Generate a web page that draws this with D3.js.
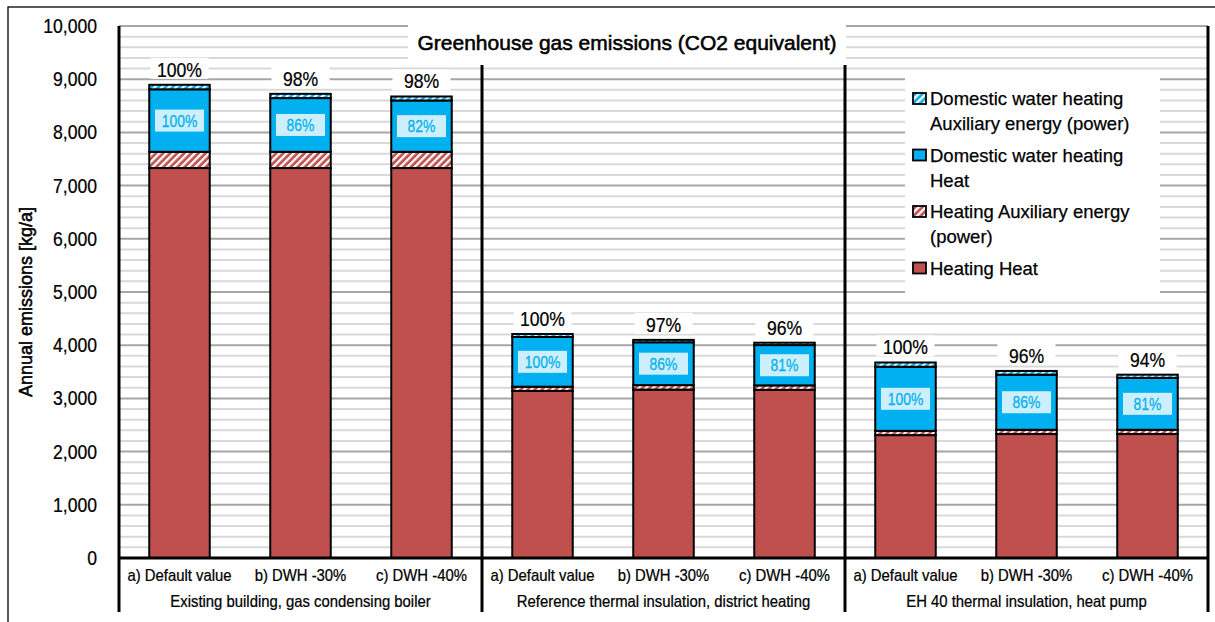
<!DOCTYPE html>
<html>
<head>
<meta charset="utf-8">
<script src="https://cdn.jsdelivr.net/npm/d3@7"></script>
<style>
  html, body { margin: 0; padding: 0; background: #fff; }
  svg { display: block; font-family: "Liberation Sans", Arial, sans-serif; }
  svg text { stroke: currentColor; stroke-width: 0.25px; }
  svg text.heavy { stroke-width: 0.55px; }
</style>
</head>
<body>
<svg id="chart" width="1215" height="622"></svg>
<script>
// ---- data (annual emissions, kg CO2-eq per year) ----
const groups = [
  "Existing building, gas condensing boiler",
  "Reference thermal insulation, district heating",
  "EH 40 thermal insulation, heat pump"
];
const variants = ["a) Default value", "b) DWH -30%", "c) DWH -40%"];

const heatingHeat = [7330, 7330, 7330, 3140, 3165, 3160, 2310, 2330, 2330];
const heatingAux  = [305, 305, 305, 80, 85, 85, 80, 80, 80];
const dwhHeat     = [1175, 1010, 965, 935, 805, 757, 1205, 1036, 976];
const dwhAux      = [85, 80, 75, 55, 45, 45, 80, 70, 60];

const yTicks = d3.range(0, 10001, 1000);
const seriesKeys = ["hh", "ha", "dh", "da"];
const legendItems = [
  { key: "da", lines: ["Domestic water heating", "Auxiliary energy (power)"] },
  { key: "dh", lines: ["Domestic water heating", "Heat"] },
  { key: "ha", lines: ["Heating Auxiliary energy", "(power)"] },
  { key: "hh", lines: ["Heating Heat"] }
];

// ---- layout ----
const plot = { left: 119, right: 1208, top: 26, bottom: 558 };
const RED = "#c0504d", BLUE = "#00b0f0";

const svg = d3.select("#chart");
const defs = svg.append("defs");

function stripes(id, color) {
  const p = defs.append("pattern")
    .attr("id", id)
    .attr("patternUnits", "userSpaceOnUse")
    .attr("width", 5).attr("height", 5)
    .attr("patternTransform", "rotate(45)");
  p.append("rect").attr("width", 5).attr("height", 5).attr("fill", color);
  p.append("rect").attr("width", 2.3).attr("height", 5).attr("fill", "#fff");
}
stripes("hatchRed", RED);
stripes("hatchBlue", BLUE);

const fills = { hh: RED, ha: "url(#hatchRed)", dh: BLUE, da: "url(#hatchBlue)" };

// text with a slight horizontal squeeze
function txt(parent, x, y, s, size, sx, anchor, fill) {
  return parent.append("text")
    .attr("transform", `translate(${x},${y}) scale(${sx},1)`)
    .attr("text-anchor", anchor || "middle")
    .attr("font-size", size)
    .attr("fill", fill || "#000")
    .style("color", fill || "#000")
    .text(s);
}

// outer frame
svg.append("rect").attr("x", 8).attr("y", 7).attr("width", 1300).attr("height", 700)
  .attr("fill", "#fff").attr("stroke", "#000").attr("stroke-width", 1.3);

// ---- scales ----
const rows = heatingHeat.map((_, i) => ({
  key: `${Math.floor(i / 3)}|${i % 3}`,
  group: Math.floor(i / 3),
  variant: i % 3,
  hh: heatingHeat[i], ha: heatingAux[i], dh: dwhHeat[i], da: dwhAux[i]
}));

const x = d3.scaleBand()
  .domain(rows.map(d => d.key))
  .range([plot.left, plot.right])
  .paddingInner(0.5)
  .paddingOuter(0.25);

const y = d3.scaleLinear().domain([0, 10000]).range([plot.bottom, plot.top]);

// ---- grid ----
const grid = svg.append("g");
const minor = d3.range(200, 10000, 200).filter(v => v % 1000 !== 0);
grid.selectAll("line.minor").data(minor).join("line")
  .attr("x1", plot.left).attr("x2", plot.right)
  .attr("y1", d => y(d)).attr("y2", d => y(d))
  .attr("stroke", "#d9d9d9").attr("stroke-width", 2);
grid.selectAll("line.major").data(yTicks.filter(v => v > 0)).join("line")
  .attr("x1", plot.left).attr("x2", plot.right)
  .attr("y1", d => y(d)).attr("y2", d => y(d))
  .attr("stroke", "#a6a6a6").attr("stroke-width", 2);

// ---- bars ----
const stacked = d3.stack().keys(seriesKeys)(rows);
const barG = svg.append("g");
stacked.forEach(layer => {
  barG.append("g").selectAll("rect").data(layer).join("rect")
    .attr("x", d => x(d.data.key))
    .attr("width", x.bandwidth())
    .attr("y", d => y(d[1]))
    .attr("height", d => y(d[0]) - y(d[1]))
    .attr("fill", fills[layer.key])
    .attr("stroke", "#000")
    .attr("stroke-width", 2);
});

// ---- labels on bars ----
const totals = rows.map(d => d.hh + d.ha + d.dh + d.da);
const lblG = svg.append("g");
rows.forEach((d, i) => {
  const base = d.group * 3;
  const cx = x(d.key) + x.bandwidth() / 2;
  const top = y(totals[i]);
  // total relative to the default value of the group
  const pctTotal = Math.round(totals[i] / totals[base] * 100) + "%";
  lblG.append("rect").attr("x", cx - 29).attr("y", top - 27).attr("width", 58).attr("height", 21)
    .attr("fill", "#fff");
  txt(lblG, cx, top - 8, pctTotal, 20, 0.88);
  // domestic hot water heat relative to the default value
  const pctDwh = Math.round(d.dh / rows[base].dh * 100) + "%";
  const mid = y(d.hh + d.ha + d.dh / 2);
  lblG.append("rect").attr("x", cx - 24.5).attr("y", mid - 11).attr("width", 49).attr("height", 22)
    .attr("fill", "#cdeffc");
  txt(lblG, cx, mid + 6, pctDwh, 17, 0.82, "middle", BLUE);
});

// ---- axes ----
const yAxis = svg.append("g")
  .attr("transform", `translate(${plot.left},0)`)
  .call(d3.axisLeft(y).tickValues(yTicks).tickFormat(d3.format(",")).tickSize(0).tickPadding(22));
yAxis.select(".domain").remove();
yAxis.selectAll("text")
  .attr("font-size", 20)
  .attr("font-family", "Liberation Sans, Arial, sans-serif")
  .attr("fill", "#000")
  .style("color", "#000")
  .attr("x", -22 / 0.88)
  .attr("transform", "scale(0.88,1)");

const xAxis = svg.append("g")
  .attr("transform", `translate(0,${plot.bottom})`)
  .call(d3.axisBottom(x).tickSize(0).tickPadding(0).tickFormat(k => variants[+k.split("|")[1]]));
xAxis.select(".domain").remove();
xAxis.selectAll("text")
  .attr("font-size", 16)
  .attr("font-family", "Liberation Sans, Arial, sans-serif")
  .attr("fill", "#000")
  .style("color", "#000")
  .attr("dy", null)
  .attr("y", 23)
  .attr("transform", "scale(0.93,1)");

// group labels
const step = x.step();
const bounds = [0, 1, 2, 3].map(g => plot.left + g * 3 * step);
groups.forEach((g, i) => {
  txt(svg, (bounds[i] + bounds[i + 1]) / 2, 607, g, 16, 0.93);
});

// axis lines and group dividers
const lines = svg.append("g").attr("stroke", "#000").attr("stroke-width", 3);
lines.append("line").attr("x1", plot.left).attr("x2", plot.left).attr("y1", plot.top).attr("y2", 612);
lines.append("line").attr("x1", plot.right).attr("x2", plot.right).attr("y1", plot.top).attr("y2", 612);
lines.append("line").attr("x1", plot.left).attr("x2", plot.right).attr("y1", plot.bottom).attr("y2", plot.bottom);
[bounds[1], bounds[2]].forEach(bx => {
  lines.append("line").attr("x1", bx).attr("x2", bx).attr("y1", 65).attr("y2", 612);
});

// ---- title ----
svg.append("rect").attr("x", 408).attr("y", 24).attr("width", 438).attr("height", 40).attr("fill", "#fff");
txt(svg, 627, 50, "Greenhouse gas emissions (CO2 equivalent)", 21, 1).attr("class", "heavy");

// ---- y axis title ----
svg.append("text")
  .attr("class", "heavy")
  .attr("transform", "translate(32,302) rotate(-90)")
  .attr("text-anchor", "middle")
  .attr("font-size", 18)
  .style("color", "#000")
  .text("Annual emissions [kg/a]");

// ---- legend ----
const lg = svg.append("g");
lg.append("rect").attr("x", 905).attr("y", 78).attr("width", 255).attr("height", 220).attr("fill", "#fff");
let ly = 105;
legendItems.forEach(item => {
  lg.append("rect").attr("x", 913).attr("y", ly - 12).attr("width", 13).attr("height", 11)
    .attr("fill", fills[item.key]).attr("stroke", "#000").attr("stroke-width", 1.8);
  item.lines.forEach((line, j) => {
    lg.append("text").attr("x", 930).attr("y", ly + j * 25).attr("font-size", 18.5)
      .style("color", "#000").text(line);
  });
  ly += (item.lines.length - 1) * 25 + 31.5;
});
</script>
</body>
</html>
